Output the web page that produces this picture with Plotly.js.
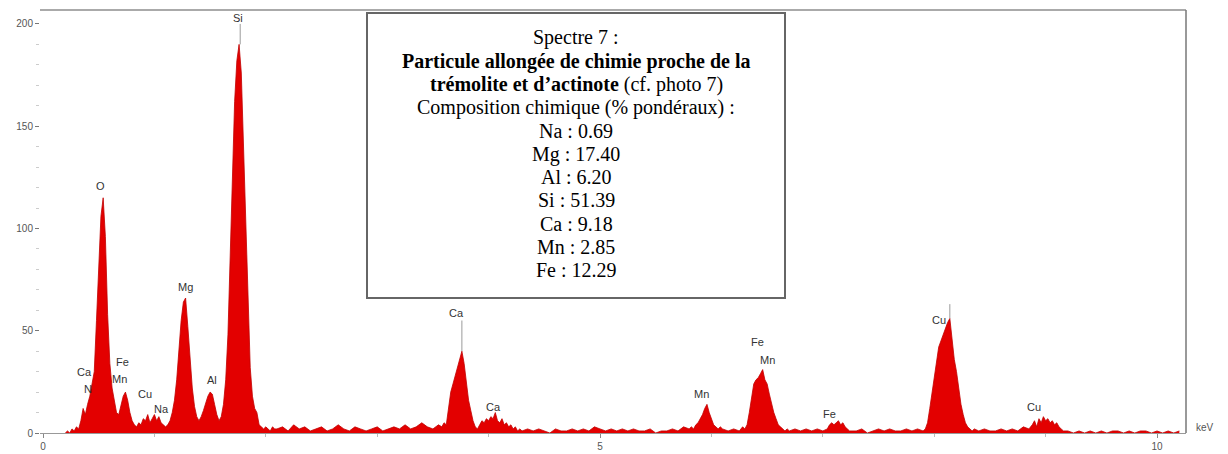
<!DOCTYPE html>
<html>
<head>
<meta charset="utf-8">
<script src="https://cdn.plot.ly/plotly-3.0.1.min.js"></script>
<style>html,body{margin:0;padding:0;background:#fff;}#chart{width:1228px;height:454px;}</style>
</head>
<body>
<div id="chart"></div>
<script>
// Spectrum: energy (keV) and counts
const energy = [
 0.20,0.22,0.24,0.26,0.28,0.30,0.32,0.34,0.36,0.38,0.40,0.42,0.44,0.46,0.48,0.50,0.52,0.54,0.56,0.58,
 0.60,0.62,0.64,0.66,0.68,0.70,0.72,0.74,0.76,0.78,0.80,0.82,0.84,0.86,0.88,0.90,0.92,0.94,0.96,0.98,
 1.00,1.02,1.04,1.06,1.08,1.10,1.12,1.14,1.16,1.18,1.20,1.22,1.24,1.26,1.28,1.30,1.32,1.34,1.36,1.38,
 1.40,1.42,1.44,1.46,1.48,1.50,1.52,1.54,1.56,1.58,1.60,1.62,1.64,1.66,1.68,1.70,1.72,1.74,1.76,1.78,
 1.80,1.82,1.84,1.86,1.88,1.90,1.92,1.94,1.96,1.98,2.00,2.02,2.04,2.06,2.08,2.10,
 2.15,2.20,2.25,2.30,2.35,2.40,2.45,2.50,2.55,2.60,2.65,2.70,2.75,2.80,2.85,2.90,2.95,3.00,3.05,3.10,
 3.15,3.20,3.25,3.30,3.35,3.40,3.45,3.50,3.55,
 3.58,3.60,3.62,3.64,3.66,3.68,3.70,3.72,3.74,3.76,3.78,3.80,3.82,3.84,3.86,3.88,3.90,3.92,3.94,3.96,
 3.98,4.00,4.02,4.04,4.06,4.08,4.10,4.12,4.14,4.16,4.18,4.20,4.22,4.24,4.26,4.28,4.30,
 4.35,4.40,4.45,4.50,4.55,4.60,4.65,4.70,4.75,4.80,4.85,4.90,4.95,5.00,5.05,5.10,5.15,5.20,5.25,5.30,
 5.35,5.40,5.45,5.50,5.55,5.60,5.65,5.70,5.75,5.80,
 5.82,5.84,5.86,5.88,5.90,5.92,5.94,5.96,5.98,6.00,6.02,6.04,6.06,6.08,6.10,
 6.15,6.20,6.25,6.28,
 6.30,6.32,6.34,6.36,6.38,6.40,6.42,6.44,6.46,6.48,6.50,6.52,6.54,6.56,6.58,6.60,6.62,6.64,6.66,6.68,6.70,
 6.75,6.80,6.85,6.90,6.95,7.00,
 7.04,7.06,7.08,7.10,7.12,7.14,7.16,7.18,7.20,7.22,7.24,
 7.30,7.35,7.40,7.45,7.50,7.55,7.60,7.65,7.70,7.75,7.80,7.85,7.90,
 7.92,7.94,7.96,7.98,8.00,8.02,8.04,8.06,8.08,8.10,8.12,8.14,8.16,8.18,8.20,8.22,8.24,8.26,8.28,8.30,
 8.32,8.34,8.36,
 8.40,8.45,8.50,8.55,8.60,8.65,8.70,8.75,8.80,8.85,
 8.88,8.90,8.92,8.94,8.96,8.98,9.00,9.02,9.04,9.06,9.08,9.10,9.12,9.14,9.16,9.20,
 9.25,9.30,9.35,9.40,9.45,9.50,9.55,9.60,9.65,9.70,9.75,9.80,9.85,9.90,9.95,10.00,10.05,10.10,10.15,10.20
];
const counts = [
 0,1,0,2,1,3,2,6,12,9,14,18,24,30,55,85,106,115,96,58,
 34,22,15,10,9,14,18,20,16,10,6,4,3,5,4,7,6,9,5,7,
 9,6,8,5,4,3,4,6,10,16,26,40,55,64,66,52,36,22,13,8,
 6,8,11,15,18,20,19,14,9,6,8,14,26,48,85,128,162,182,190,176,
 140,96,58,32,18,12,10,4,3,2,3,2,1,3,2,2,
 3,1,4,2,3,1,2,3,1,2,4,2,1,3,2,1,2,3,1,2,
 3,2,4,2,3,5,3,2,4,
 3,5,4,12,20,24,28,33,37,40,34,24,16,11,6,3,2,4,6,5,
 7,6,8,7,10,6,5,7,4,5,3,4,2,3,1,2,1,
 2,1,2,1,0,2,1,1,2,1,2,1,3,2,1,2,1,2,1,2,
 1,1,2,0,1,1,2,1,3,2,
 3,2,4,5,7,9,12,14,10,7,4,3,2,3,2,
 1,2,1,3,
 2,4,10,18,24,26,27,29,31,26,24,19,14,10,7,4,3,2,1,2,1,
 2,1,2,1,2,1,
 2,4,5,4,5,6,4,5,3,2,1,
 1,2,0,1,2,1,2,1,1,2,1,2,1,
 2,5,12,20,28,36,42,45,48,52,54,56,46,36,30,22,14,9,5,3,
 2,1,2,
 1,2,1,1,2,1,2,1,3,2,
 4,6,3,7,5,8,6,7,5,6,4,5,3,2,1,1,
 0,1,0,1,0,1,0,1,1,0,1,0,1,1,0,1,0,1,0,1
];

// Peak labels (text, energy keV, counts position of the label)
const labelText = ["Ca","N","O","Fe","Mn","Cu","Na","Mg","Al","Si","Ca","Ca","Mn","Fe","Mn","Fe","Cu","Cu"];
const labelE    = [0.376,0.403,0.52,0.717,0.69,0.914,1.066,1.281,1.514,1.747,3.71,4.04,5.914,6.416,6.505,7.061,8.047,8.898];
const labelC    = [29.8,21.5,120.8,34.7,26.4,19.1,11.7,71.4,25.9,202.9,58.7,12.7,19.1,44.5,35.7,9.3,55.3,12.7];

// Marker lines above the main peaks
const markerE   = [1.77,3.76,8.14];
const markerTop = [200,55,63];
const markerBot = [190,40,56];

// Composition box
const boxHeader = ["Spectre 7 :",
  "<b>Particule allongée de chimie proche de la</b>",
  "<b>trémolite et d’actinote</b> (cf. photo 7)",
  "Composition chimique (% pondéraux) :"];
const elements = ["Na","Mg","Al","Si","Ca","Mn","Fe"];
const wtPct    = [0.69,17.40,6.20,51.39,9.18,2.85,12.29];

const yTicks = [0,50,100,150,200];
const xTicks = [0,5,10];

const mx = [], my = [];
markerE.forEach((e,i)=>{ mx.push(e,e,null); my.push(markerTop[i],markerBot[i],null); });

const traces = [
  {type:'scatter', mode:'lines', x:energy, y:counts, fill:'tozeroy',
   fillcolor:'#e30000', line:{color:'#c20000', width:0.8}, hoverinfo:'skip', showlegend:false},
  {type:'scatter', mode:'lines', x:mx, y:my, line:{color:'#9a9a9a', width:1}, hoverinfo:'skip', showlegend:false}
];

const annotations = labelText.map((t,i)=>({
  x:labelE[i], y:labelC[i], xref:'x', yref:'y', text:t, showarrow:false,
  font:{family:'Arial, Liberation Sans, sans-serif', size:11, color:'#333'}
}));

// plot area geometry (px) used to place the box lines in paper units
const PL = 40, PW = 1146, PB = 433, PH = 423;
const boxLines = boxHeader.concat(elements.map((el,i)=>el+" : "+wtPct[i].toFixed(2)));
boxLines.forEach((t,i)=>{
  const py = 38 + i*23.2;
  annotations.push({
    xref:'paper', yref:'paper', x:(576-PL)/PW, y:(PB-py)/PH, xanchor:'center', yanchor:'middle',
    text:t, showarrow:false,
    font:{family:'Liberation Serif, Times New Roman, serif', size:20, color:'#000'}
  });
});
annotations.push({
  xref:'paper', yref:'paper', x:1.0166, y:0.012, xanchor:'center', yanchor:'middle',
  text:'keV', showarrow:false, font:{family:'Arial, Liberation Sans, sans-serif', size:10, color:'#555'}
});

const layout = {
  width:1228, height:454,
  margin:{l:40, r:42, t:10, b:21},
  paper_bgcolor:'#ffffff', plot_bgcolor:'#ffffff',
  showlegend:false,
  xaxis:{range:[-0.027,10.26], tickmode:'array', tickvals:xTicks, ticktext:xTicks.map(String),
    ticks:'outside', ticklen:4, tickcolor:'#888', showline:true, linecolor:'#999', linewidth:1,
    showgrid:false, zeroline:false,
    tickfont:{family:'Arial, Liberation Sans, sans-serif', size:10, color:'#555'},
    minor:{tickmode:'linear', tick0:0, dtick:1, ticks:'outside', ticklen:3, tickcolor:'#bbb'}},
  yaxis:{range:[0,206.8], tickmode:'array', tickvals:yTicks, ticktext:yTicks.map(String),
    ticks:'outside', ticklen:4, tickcolor:'#777', showline:false, showgrid:false, zeroline:false,
    tickfont:{family:'Arial, Liberation Sans, sans-serif', size:10, color:'#555'},
    minor:{tickmode:'linear', tick0:0, dtick:10, ticks:'outside', ticklen:3, tickcolor:'#ccc'}},
  shapes:[
    {type:'line', xref:'paper', yref:'paper', x0:0, x1:1, y0:1, y1:1, line:{color:'#aaa', width:2}},
    {type:'line', xref:'paper', yref:'paper', x0:1, x1:1, y0:0, y1:1, line:{color:'#777', width:1.5}},
    {type:'rect', xref:'paper', yref:'paper', x0:(367-PL)/PW, x1:(785-PL)/PW, y0:(PB-298)/PH, y1:(PB-13)/PH,
     line:{color:'#666', width:2}, fillcolor:'#ffffff', layer:'below'}
  ],
  annotations:annotations
};

Plotly.newPlot('chart', traces, layout, {displayModeBar:false, staticPlot:true});
</script>
</body>
</html>
